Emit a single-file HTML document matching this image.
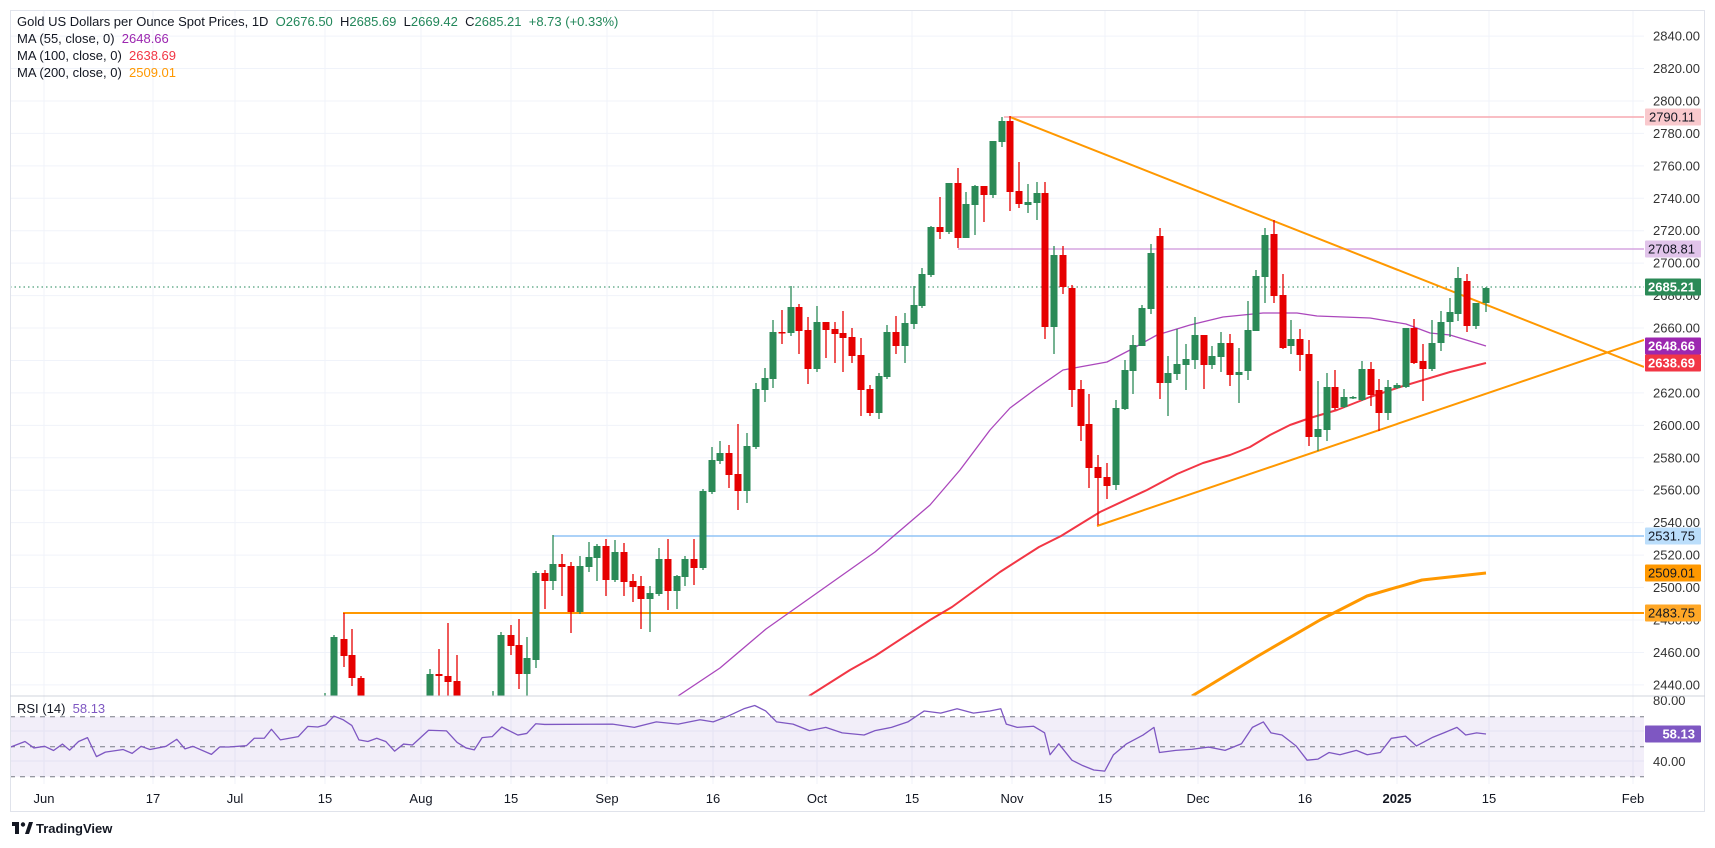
<!DOCTYPE html>
<html><head><meta charset="utf-8">
<style>
html,body{margin:0;padding:0;background:#fff;width:1715px;height:848px;overflow:hidden}
svg{display:block}
text{font-family:"Liberation Sans",sans-serif}
</style></head>
<body>
<svg id="s" width="1715" height="848" xmlns="http://www.w3.org/2000/svg">
<defs>
<clipPath id="mc"><rect x="10" y="10" width="1634" height="686"/></clipPath>
<clipPath id="rc"><rect x="10" y="696" width="1634" height="90"/></clipPath>
</defs>
<g id="grid"></g>
<rect x="10" y="716.7" width="1634" height="60" fill="#7e57c2" fill-opacity="0.1"/>
<g id="lines" clip-path="url(#mc)"></g>
<g id="candles" clip-path="url(#mc)"></g>
<g id="rsi" clip-path="url(#rc)"></g>
<g id="labels"></g>
<rect x="10.5" y="10.5" width="1694" height="801" fill="none" stroke="#e0e3eb"/>
<line x1="10" y1="696" x2="1705" y2="696" stroke="#d1d4dc"/>
<text x="17" y="26" font-size="13" fill="#131722">Gold US Dollars per Ounce Spot Prices, 1D <tspan fill="#22875a">&#160;O</tspan><tspan fill="#22875a">2676.50</tspan><tspan fill="#131722">&#160;&#160;H</tspan><tspan fill="#22875a">2685.69</tspan><tspan fill="#131722">&#160;&#160;L</tspan><tspan fill="#22875a">2669.42</tspan><tspan fill="#131722">&#160;&#160;C</tspan><tspan fill="#22875a">2685.21&#160;&#160;+8.73 (+0.33%)</tspan></text>
<text x="17" y="43" font-size="13" fill="#131722">MA (55, close, 0) <tspan fill="#9c27b0">&#160;2648.66</tspan></text>
<text x="17" y="60" font-size="13" fill="#131722">MA (100, close, 0) <tspan fill="#f23645">&#160;2638.69</tspan></text>
<text x="17" y="77" font-size="13" fill="#131722">MA (200, close, 0) <tspan fill="#ff9800">&#160;2509.01</tspan></text>
<text x="17" y="713" font-size="13" fill="#131722">RSI (14) <tspan fill="#7e57c2">&#160;58.13</tspan></text>
<g transform="translate(12,822)">
<rect x="0" y="0" width="7" height="4" fill="#131722"/><rect x="3" y="0" width="4" height="12" fill="#131722"/>
<circle cx="11" cy="2.5" r="2.2" fill="#131722"/><path d="M13 12 L17 0 L21 0 L17 12 Z" fill="#131722"/>
</g>
<text x="36" y="833" font-size="13" fill="#131722" font-weight="bold">TradingView</text>
</svg>
<script>
var NS="http://www.w3.org/2000/svg";
function el(p,t,a,txt){var e=document.createElementNS(NS,t);for(var k in a)e.setAttribute(k,a[k]);if(txt!==undefined)e.textContent=txt;document.getElementById(p).appendChild(e);return e;}
function Y(p){return 117+(2790.11-p)*1.622;}
// grid
for(var p=2440;p<=2840;p+=20){var y=Y(p);el("grid","line",{x1:10,x2:1644,y1:y,y2:y,stroke:"#f0f3fa"});
el("labels","text",{x:1653,y:y+4.5,"font-size":13,fill:"#333"},p.toFixed(2));}
el("grid","line",{x1:10,x2:1644,y1:731,y2:731,stroke:"#f0f3fa"});
el("grid","line",{x1:10,x2:1644,y1:761,y2:761,stroke:"#f0f3fa"});
var xt=[[44,"Jun"],[153,"17"],[235,"Jul"],[325,"15"],[421,"Aug"],[511,"15"],[607,"Sep"],[713,"16"],[817,"Oct"],[912,"15"],[1012,"Nov"],[1105,"15"],[1198,"Dec"],[1305,"16"],[1397,"2025"],[1489,"15"],[1633,"Feb"]];
xt.forEach(function(t){el("grid","line",{x1:t[0],x2:t[0],y1:10,y2:784,stroke:"#f0f3fa"});
var a={x:t[0],y:803,"font-size":13,fill:"#131722","text-anchor":"middle"};if(t[1]=="2025")a["font-weight"]="bold";el("labels","text",a,t[1]);});
el("labels","text",{x:1653,y:705,"font-size":13,fill:"#333"},"80.00");
el("labels","text",{x:1653,y:766,"font-size":13,fill:"#333"},"40.00");
// RSI dashed
[716.7,746.7,776.7].forEach(function(y){el("rsi","line",{x1:10,x2:1644,y1:y,y2:y,stroke:"#787b86","stroke-dasharray":"5,5"});});
// horizontal levels
el("lines","line",{x1:1004,x2:1644,y1:117,y2:117,stroke:"#f7a9b0","stroke-width":1.5});
el("lines","line",{x1:958,x2:1644,y1:249,y2:249,stroke:"#d5a6e0","stroke-width":1.5});
el("lines","line",{x1:553,x2:1644,y1:536,y2:536,stroke:"#90c4f5","stroke-width":1.5});
el("lines","line",{x1:343,x2:1644,y1:613,y2:613,stroke:"#ff9800","stroke-width":2});
el("lines","line",{x1:10,x2:1644,y1:287,y2:287,stroke:"#22875a","stroke-dasharray":"1.5,3"});
// trendlines
el("lines","line",{x1:1010,y1:117,x2:1644,y2:367,stroke:"#ff9800","stroke-width":2});
el("lines","line",{x1:1097,y1:526,x2:1644,y2:340,stroke:"#ff9800","stroke-width":2});
function pl(pts,c,w,g){el(g,"polyline",{points:pts.map(function(q){return q.join(",")}).join(" "),fill:"none",stroke:c,"stroke-width":w,"stroke-linejoin":"round"});}
pl([[678,696],[720,668],[766,629],[800,605],[875,552],[930,505],[960,470],[975,450],[990,430],[1010,408],[1037,388],[1063,370],[1107,362],[1130,350],[1157,335],[1190,325],[1223,317],[1263,313],[1297,313],[1317,316],[1370,318],[1406,324],[1430,333],[1450,335],[1486,346]],"#ab47bc",1.3,"lines");
pl([[809,696],[850,670],[875,656],[930,620],[952,607],[1000,572],[1039,547],[1061,536],[1100,512],[1147,490],[1177,474],[1203,463],[1230,455],[1250,447],[1270,435],[1290,425],[1310,418],[1337,410],[1370,397],[1400,387],[1450,372],[1486,363]],"#f23645",2,"lines");
pl([[1192,696],[1258,656],[1320,620],[1367,596],[1422,580],[1486,573]],"#ff9800",3,"lines");
// candles [x,o,c,h,l] in px
var C=[[325,720,700,693,730],[334,700,637,635,700],[344,639,656,613,667],[352,655,678,629,686],[361,678,710,676,720],[430,700,674,669,710],[439,674,676,649,705],[448,676,682,623,705],[457,681,705,655,710],[493,720,705,691,720],[501,705,635,632,710],[511,635,646,625,655],[519,645,674,619,689],[527,674,658,637,700],[536,660,573,571,668],[545,573,581,570,609],[553,581,564,535,590],[562,564,567,554,596],[571,566,612,562,633],[580,612,566,556,614],[589,567,557,542,572],[597,558,546,544,581],[606,546,580,539,596],[615,580,552,540,582],[624,552,582,543,596],[633,581,587,574,602],[641,586,599,576,629],[650,599,593,586,632],[659,594,559,548,596],[668,559,591,539,610],[677,591,576,575,609],[685,577,559,556,586],[694,559,568,539,585],[703,568,491,489,570],[712,492,460,447,494],[720,461,453,441,464],[729,453,475,445,488],[738,474,491,424,510],[747,491,446,433,503],[756,447,389,383,449],[765,390,378,368,402],[773,379,332,320,388],[782,332,333,310,344],[791,333,307,286,336],[799,307,331,304,354],[808,330,369,317,384],[817,369,322,306,372],[826,322,330,322,358],[835,329,334,322,363],[843,333,338,311,372],[852,337,356,328,363],[861,355,390,338,416],[870,389,413,385,416],[879,413,376,373,419],[887,377,332,325,379],[896,332,346,316,354],[905,346,323,313,363],[914,324,305,286,329],[922,306,274,268,308],[931,275,227,226,277],[940,227,232,197,239],[949,232,183,183,234],[958,183,238,168,248],[966,238,204,192,238],[975,205,186,185,235],[984,186,195,186,222],[993,195,141,141,198],[1002,142,121,117,147],[1010,121,192,116,211],[1019,191,204,162,208],[1028,205,202,184,213],[1037,203,193,182,220],[1045,193,327,182,339],[1054,327,255,246,354],[1063,255,287,246,294],[1072,288,390,285,407],[1081,389,426,380,441],[1089,424,468,394,488],[1098,467,478,455,525],[1107,477,486,463,499],[1116,485,408,400,490],[1125,409,370,360,410],[1133,371,345,335,394],[1142,346,308,305,346],[1151,309,253,244,314],[1160,236,383,228,399],[1168,383,373,356,416],[1177,374,364,329,380],[1186,365,359,344,390],[1195,360,335,317,369],[1204,335,365,335,389],[1212,365,356,346,369],[1221,357,343,332,372],[1230,343,375,334,386],[1239,375,372,348,403],[1248,371,330,301,380],[1256,331,276,270,331],[1265,277,235,228,303],[1274,234,296,220,303],[1283,295,348,274,349],[1291,346,339,320,354],[1300,339,355,329,371],[1309,354,437,340,446],[1318,437,429,381,451],[1327,430,387,373,441],[1335,387,408,370,410],[1344,407,397,389,408],[1353,398,397,396,399],[1362,400,369,361,401],[1371,369,395,362,406],[1379,390,413,379,431],[1388,413,387,380,420],[1397,388,385,383,389],[1406,387,328,328,388],[1414,328,363,319,364],[1423,361,369,344,401],[1432,369,343,320,371],[1441,343,322,311,351],[1450,322,312,298,337],[1458,314,278,267,321],[1467,281,326,274,332],[1476,326,303,303,329],[1486,303,288,287,312]];
C.forEach(function(c){var col=c[2]<=c[1]?"#2b8a57":"#e60000";
el("candles","line",{x1:c[0],x2:c[0],y1:c[3],y2:c[4],stroke:col,"stroke-width":1.3});
var t=Math.min(c[1],c[2]),b=Math.max(c[1],c[2]);if(b-t<1.5)b=t+1.5;
el("candles","rect",{x:c[0]-3.5,y:t,width:7,height:b-t,fill:col});});
// RSI
var R=[[30,562],[70,545],[95,565],[125,560],[150,573],[175,553],[195,572],[220,545],[245,533],[270,592],[295,578],[345,570],[370,582],[395,560],[420,570],[465,560],[495,538],[518,568],[540,560],[592,585],[615,562],[640,562],[690,558],[712,535],[740,535],[760,507],[785,540],[835,530],[862,498],[890,500],[912,493],[935,466],[960,477],[985,495],[1005,540],[1030,545],[1055,535],[1080,545],[1105,575],[1130,553],[1155,556],[1200,510],[1250,512],[1280,548],[1305,565],[1328,571],[1350,533],[1378,530],[1405,500],[1450,525],[1475,520],[1500,490],[1525,492]];
var pts=R.map(function(q){return [q[0]/2.8,716.7+(q[1]-468)*0.322];});
var D=[[560,662],[580,665],[600,660],[620,662],[640,658],[652,660],[665,655],[680,648],[690,645],[700,650],[710,660],[725,662],[740,668],[755,665],[770,670],[790,672],[800,668],[815,665],[830,660],[845,650],[860,652],[875,648],[890,652],[905,650],[915,648],[920,662],[930,665],[945,664],[955,670],[960,690],[968,680],[980,695],[990,700],[1000,704],[1010,705],[1018,690],[1030,680],[1045,672],[1055,665],[1060,688],[1075,686],[1090,685],[1105,683],[1120,686],[1135,680],[1145,665],[1155,660],[1162,670],[1172,672],[1185,682],[1195,695],[1205,694],[1215,688],[1225,690],[1240,686],[1250,690],[1262,688],[1272,675],[1285,673],[1295,682],[1310,674],[1320,670],[1332,665],[1340,672],[1350,670],[1361,673]];
D.forEach(function(q){pts.push([q[0]*1.0938,q[1]*1.0938]);});
pts[pts.length-1]=[1486,734];
pl(pts,"#7e57c2",1.3,"rsi");
// price labels
function lab(y,bg,fg,t){el("labels","rect",{x:1645,y:y-8.5,width:56,height:17,fill:bg,rx:1});
el("labels","text",{x:1695,y:y+4.5,"font-size":13,fill:fg,"text-anchor":"end","font-weight":fg=="#fff"?"bold":"normal"},t);}
lab(117,"#f9c9cd","#131722","2790.11");
lab(249,"#e1c4ea","#131722","2708.81");
lab(287,"#2b8a57","#fff","2685.21");
lab(346,"#9c27b0","#fff","2648.66");
lab(363,"#f23645","#fff","2638.69");
lab(536,"#bbdefb","#131722","2531.75");
lab(573,"#ff9800","#131722","2509.01");
lab(613,"#ffa726","#131722","2483.75");
lab(734,"#7e57c2","#fff","58.13");
</script>
</body></html>
